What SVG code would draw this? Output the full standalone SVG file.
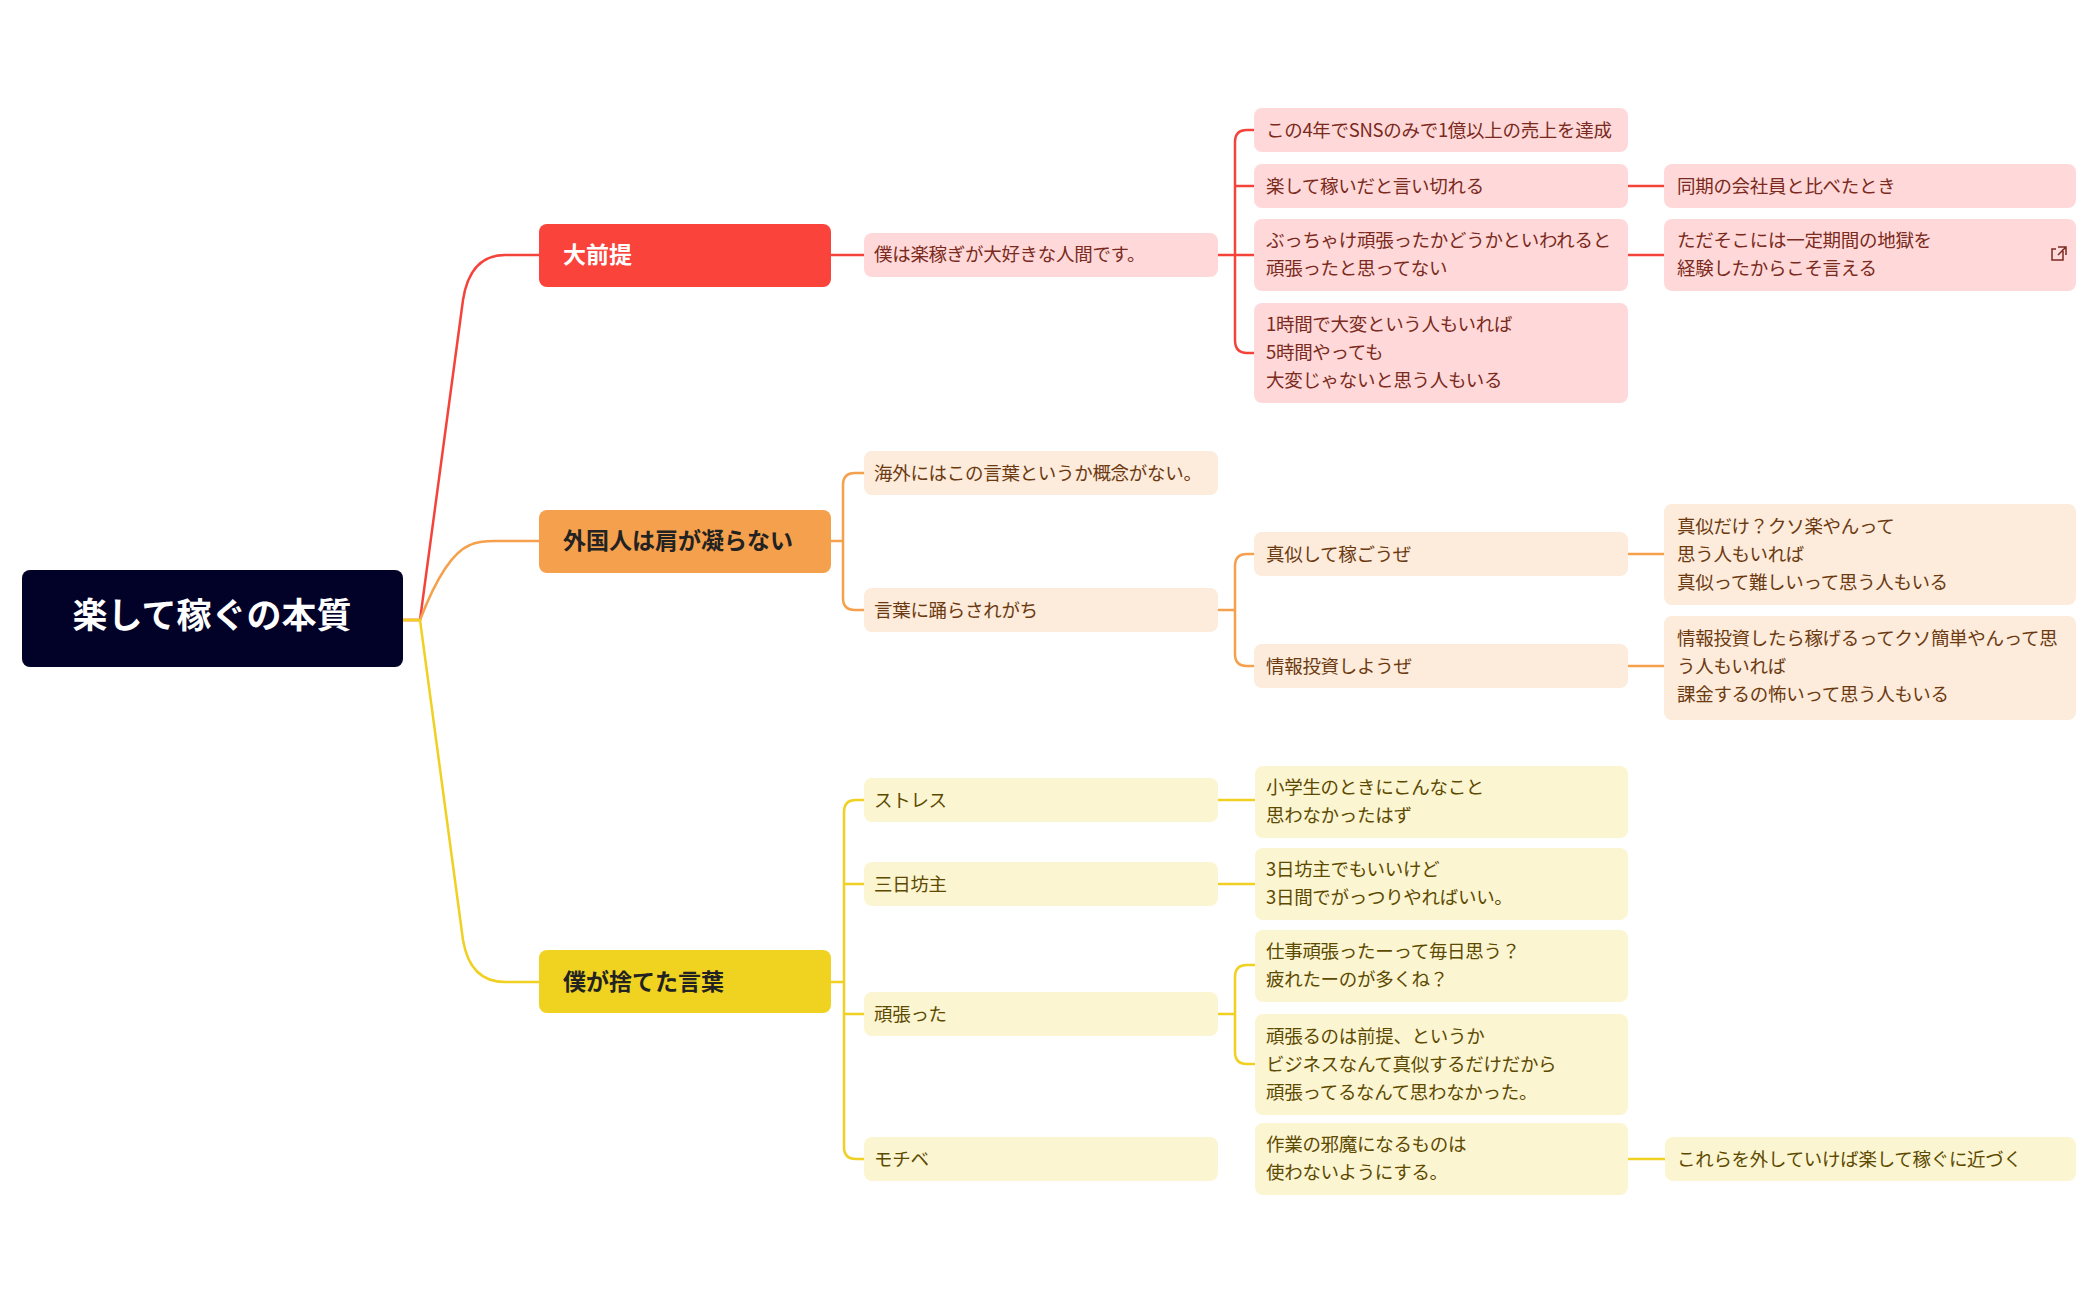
<svg xmlns="http://www.w3.org/2000/svg" width="2098" height="1300" viewBox="0 0 2098 1300">
<style>
text{font-family:"Noto Sans CJK JP","Noto Sans",sans-serif;font-size:18.5px;letter-spacing:-0.3px}
.r rect{fill:#ffd9d9}.r text{fill:#7a2a20}
.o rect{fill:#fdebdc}.o text{fill:#6b3a10}
.y rect{fill:#fcf5d2}.y text{fill:#5c4a00}
.l1 text{font-size:23px;font-weight:bold;letter-spacing:0}
#conn path{fill:none;stroke-width:2.5}
.cr{stroke:#f4433a}.co{stroke:#f5a04c}.cy{stroke:#f0d020}
</style>
<rect width="2098" height="1300" fill="#fff"/>
<g id="conn">
<path class="cr" d="M403,620 L420,620 L463,300 Q470,255 505,255 L539,255 M831,255 L864,255 M1218,255 L1235,255 M1254,130 L1247,130 Q1235,130 1235,142 L1235,340 Q1235,353 1247,353 L1254,353 M1235,186 L1254,186 M1235,255 L1254,255 M1628,186 L1664,186 M1628,255 L1664,255"/>
<path class="co" d="M403,620 L420,620 Q445,555 470,545 Q478,541 495,541 L539,541 M831,541 L843,541 M864,473 L855,473 Q843,473 843,485 L843,598 Q843,610 855,610 L864,610 M1218,610 L1235,610 M1254,554 L1247,554 Q1235,554 1235,566 L1235,654 Q1235,666 1247,666 L1254,666 M1628,554 L1664,554 M1628,666 L1664,666"/>
<path class="cy" d="M403,620 L420,620 L463,940 Q470,982 505,982 L539,982 M831,982 L844,982 M864,800 L856,800 Q844,800 844,812 L844,1147 Q844,1159 856,1159 L864,1159 M844,884 L864,884 M844,1014 L864,1014 M1218,800 L1255,800 M1218,884 L1255,884 M1218,1014 L1235,1014 M1255,965 L1247,965 Q1235,965 1235,977 L1235,1052 Q1235,1064 1247,1064 L1255,1064 M1628,1159 L1665,1159"/>
</g>
<g id="root"><rect x="22" y="570" width="381" height="97" rx="8" fill="#020229"/><text x="212" y="628" text-anchor="middle" fill="#fff" style="font-size:35px;font-weight:bold;letter-spacing:0">楽して稼ぐの本質</text></g>
<g id="n1" class="l1"><rect x="539" y="224" width="292" height="63" rx="8" fill="#f9433b"/><text x="563" y="263" fill="#fff">大前提</text></g>
<g id="n2" class="l1"><rect x="539" y="510" width="292" height="63" rx="8" fill="#f5a04c"/><text x="563" y="549" fill="#222">外国人は肩が凝らない</text></g>
<g id="n3" class="l1"><rect x="539" y="950" width="292" height="63" rx="8" fill="#f0d320"/><text x="563" y="990" fill="#222">僕が捨てた言葉</text></g>
<g id="r1" class="r"><rect x="864" y="233" width="354" height="44" rx="8"/><text x="874" y="261">僕は楽稼ぎが大好きな人間です。</text></g>
<g id="r2" class="r"><rect x="1254" y="108" width="374" height="44" rx="8"/><text x="1266" y="137">この4年でSNSのみで1億以上の売上を達成</text></g>
<g id="r3" class="r"><rect x="1254" y="164" width="374" height="44" rx="8"/><text x="1266" y="193">楽して稼いだと言い切れる</text></g>
<g id="r4" class="r"><rect x="1254" y="219" width="374" height="72" rx="8"/><text x="1266" y="247">ぶっちゃけ頑張ったかどうかといわれると</text><text x="1266" y="275">頑張ったと思ってない</text></g>
<g id="r5" class="r"><rect x="1254" y="303" width="374" height="100" rx="8"/><text x="1266" y="331">1時間で大変という人もいれば</text><text x="1266" y="359">5時間やっても</text><text x="1266" y="387">大変じゃないと思う人もいる</text></g>
<g id="r6" class="r"><rect x="1664" y="164" width="412" height="44" rx="8"/><text x="1677" y="193">同期の会社員と比べたとき</text></g>
<g id="r7" class="r"><rect x="1664" y="219" width="412" height="72" rx="8"/><text x="1677" y="247">ただそこには一定期間の地獄を</text><text x="1677" y="275">経験したからこそ言える</text><path d="M2063,249 L2063,260 L2052,260 L2052,249 L2056,249 M2058,247 L2066,247 L2066,255 M2066,247 L2058,255" fill="none" stroke="#7a2a20" stroke-width="1.5"/></g>
<g id="o1" class="o"><rect x="864" y="451" width="354" height="44" rx="8"/><text x="874" y="480">海外にはこの言葉というか概念がない。</text></g>
<g id="o2" class="o"><rect x="864" y="588" width="354" height="44" rx="8"/><text x="874" y="617">言葉に踊らされがち</text></g>
<g id="o3" class="o"><rect x="1254" y="532" width="374" height="44" rx="8"/><text x="1266" y="561">真似して稼ごうぜ</text></g>
<g id="o4" class="o"><rect x="1254" y="644" width="374" height="44" rx="8"/><text x="1266" y="673">情報投資しようぜ</text></g>
<g id="o5" class="o"><rect x="1664" y="504" width="412" height="101" rx="8"/><text x="1677" y="533">真似だけ？クソ楽やんって</text><text x="1677" y="561">思う人もいれば</text><text x="1677" y="589">真似って難しいって思う人もいる</text></g>
<g id="o6" class="o"><rect x="1664" y="616" width="412" height="104" rx="8"/><text x="1677" y="645">情報投資したら稼げるってクソ簡単やんって思</text><text x="1677" y="673">う人もいれば</text><text x="1677" y="701">課金するの怖いって思う人もいる</text></g>
<g id="y1" class="y"><rect x="864" y="778" width="354" height="44" rx="8"/><text x="874" y="807">ストレス</text></g>
<g id="y2" class="y"><rect x="864" y="862" width="354" height="44" rx="8"/><text x="874" y="891">三日坊主</text></g>
<g id="y3" class="y"><rect x="864" y="992" width="354" height="44" rx="8"/><text x="874" y="1021">頑張った</text></g>
<g id="y4" class="y"><rect x="864" y="1137" width="354" height="44" rx="8"/><text x="874" y="1166">モチベ</text></g>
<g id="y5" class="y"><rect x="1255" y="766" width="373" height="72" rx="8"/><text x="1266" y="794">小学生のときにこんなこと</text><text x="1266" y="822">思わなかったはず</text></g>
<g id="y6" class="y"><rect x="1255" y="848" width="373" height="72" rx="8"/><text x="1266" y="876">3日坊主でもいいけど</text><text x="1266" y="904">3日間でがっつりやればいい。</text></g>
<g id="y7" class="y"><rect x="1255" y="930" width="373" height="72" rx="8"/><text x="1266" y="958">仕事頑張ったーって毎日思う？</text><text x="1266" y="986">疲れたーのが多くね？</text></g>
<g id="y8" class="y"><rect x="1255" y="1014" width="373" height="101" rx="8"/><text x="1266" y="1043">頑張るのは前提、というか</text><text x="1266" y="1071">ビジネスなんて真似するだけだから</text><text x="1266" y="1099">頑張ってるなんて思わなかった。</text></g>
<g id="y9" class="y"><rect x="1255" y="1123" width="373" height="72" rx="8"/><text x="1266" y="1151">作業の邪魔になるものは</text><text x="1266" y="1179">使わないようにする。</text></g>
<g id="y10" class="y"><rect x="1665" y="1137" width="411" height="44" rx="8"/><text x="1677" y="1166">これらを外していけば楽して稼ぐに近づく</text></g>
</svg>
